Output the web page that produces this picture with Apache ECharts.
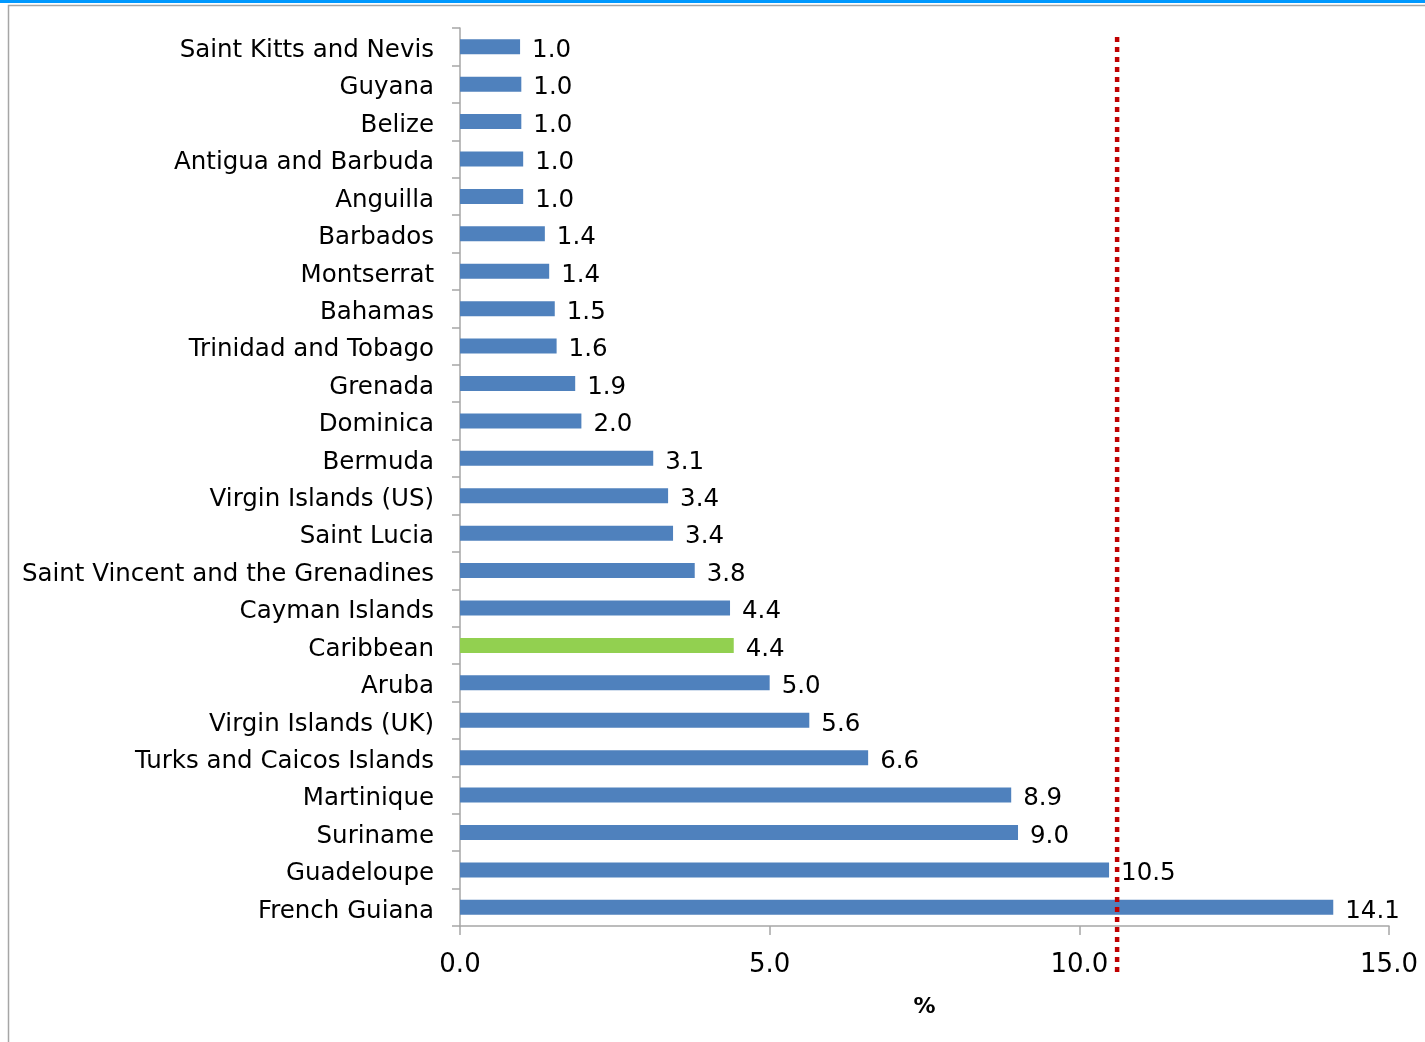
<!DOCTYPE html>
<html><head><meta charset="utf-8">
<script src="https://cdn.jsdelivr.net/npm/echarts@6/dist/echarts.min.js"></script>
<style>html,body{margin:0;padding:0;background:#fff}#c{width:1425px;height:1042px}</style>
</head><body><div id="c"></div>
<script>
const categories = ["Saint Kitts and Nevis","Guyana","Belize","Antigua and Barbuda","Anguilla","Barbados","Montserrat","Bahamas","Trinidad and Tobago","Grenada","Dominica","Bermuda","Virgin Islands (US)","Saint Lucia","Saint Vincent and the Grenadines","Cayman Islands","Caribbean","Aruba","Virgin Islands (UK)","Turks and Caicos Islands","Martinique","Suriname","Guadeloupe","French Guiana"];
const values = [0.97,0.99,0.99,1.02,1.02,1.37,1.44,1.53,1.56,1.86,1.96,3.12,3.36,3.44,3.79,4.36,4.42,5.0,5.64,6.59,8.90,9.01,10.48,14.10];
const highlight = "Caribbean";
const referenceValue = 10.61;
const xTicks = {min:0, max:15, interval:5};
const axisName = "%";

const FONT = '"Comic Sans MS","DejaVu Sans","Noto Sans",sans-serif';
const chart = echarts.init(document.getElementById('c'), null, {renderer:'canvas'});
chart.setOption({
  backgroundColor:'#fff',
  animation:false,
  graphic:[
    {type:'rect', shape:{x:0,y:0,width:1425,height:3}, style:{fill:'#0099ff'}},
    {type:'rect', shape:{x:8.5,y:5.5,width:1430,height:1050}, style:{fill:'none',stroke:'#a6a6a6',lineWidth:1.5}}
  ],
  grid:[
    {left:460, right:36, top:28, bottom:116, containLabel:false},
    {left:460, right:36, top:36, bottom:70, containLabel:false}
  ],
  xAxis:[
    {type:'value', gridIndex:0, min:xTicks.min, max:xTicks.max, interval:xTicks.interval,
     axisLine:{show:true, lineStyle:{color:'#a6a6a6', width:1.5}},
     axisTick:{show:true, length:9, lineStyle:{color:'#a6a6a6', width:1.5}},
     splitLine:{show:false},
     axisLabel:{formatter:v=>v.toFixed(1), color:'#000', fontFamily:FONT, fontSize:26, margin:26},
     name:axisName, nameLocation:'middle', nameGap:70,
     nameTextStyle:{color:'#000', fontFamily:FONT, fontSize:22, fontWeight:'bold'}},
    {type:'value', gridIndex:1, min:xTicks.min, max:xTicks.max, show:false}
  ],
  yAxis:[
    {type:'category', gridIndex:0, data:categories, inverse:true,
     axisLine:{show:true, lineStyle:{color:'#a6a6a6', width:1.5}},
     axisTick:{show:true, length:8, lineStyle:{color:'#a6a6a6', width:1.5}},
     axisLabel:{color:'#000', fontFamily:FONT, fontSize:24.5, margin:26,
                formatter:v=>'{a|'+v+'}', rich:{a:{fontFamily:FONT, fontSize:24.5, color:'#000', padding:[8,0,0,0]}}}},
    {type:'value', gridIndex:1, min:0, max:1, show:false}
  ],
  series:[
    {type:'bar', xAxisIndex:0, yAxisIndex:0, barWidth:15,
     data: values.map((v,i)=>({value:v, itemStyle:{color: categories[i]===highlight ? '#92d050' : '#4f81bd'}})),
     label:{show:true, position:'right', distance:12, formatter:p=>p.value.toFixed(1),
            color:'#000', fontFamily:FONT, fontSize:24.5, offset:[0,4]}},
    {type:'line', xAxisIndex:1, yAxisIndex:1, symbol:'none',
     data:[[referenceValue,0],[referenceValue,1]],
     lineStyle:{color:'#c00000', width:4.5, type:[5,5]}}
  ]
});
</script></body></html>
